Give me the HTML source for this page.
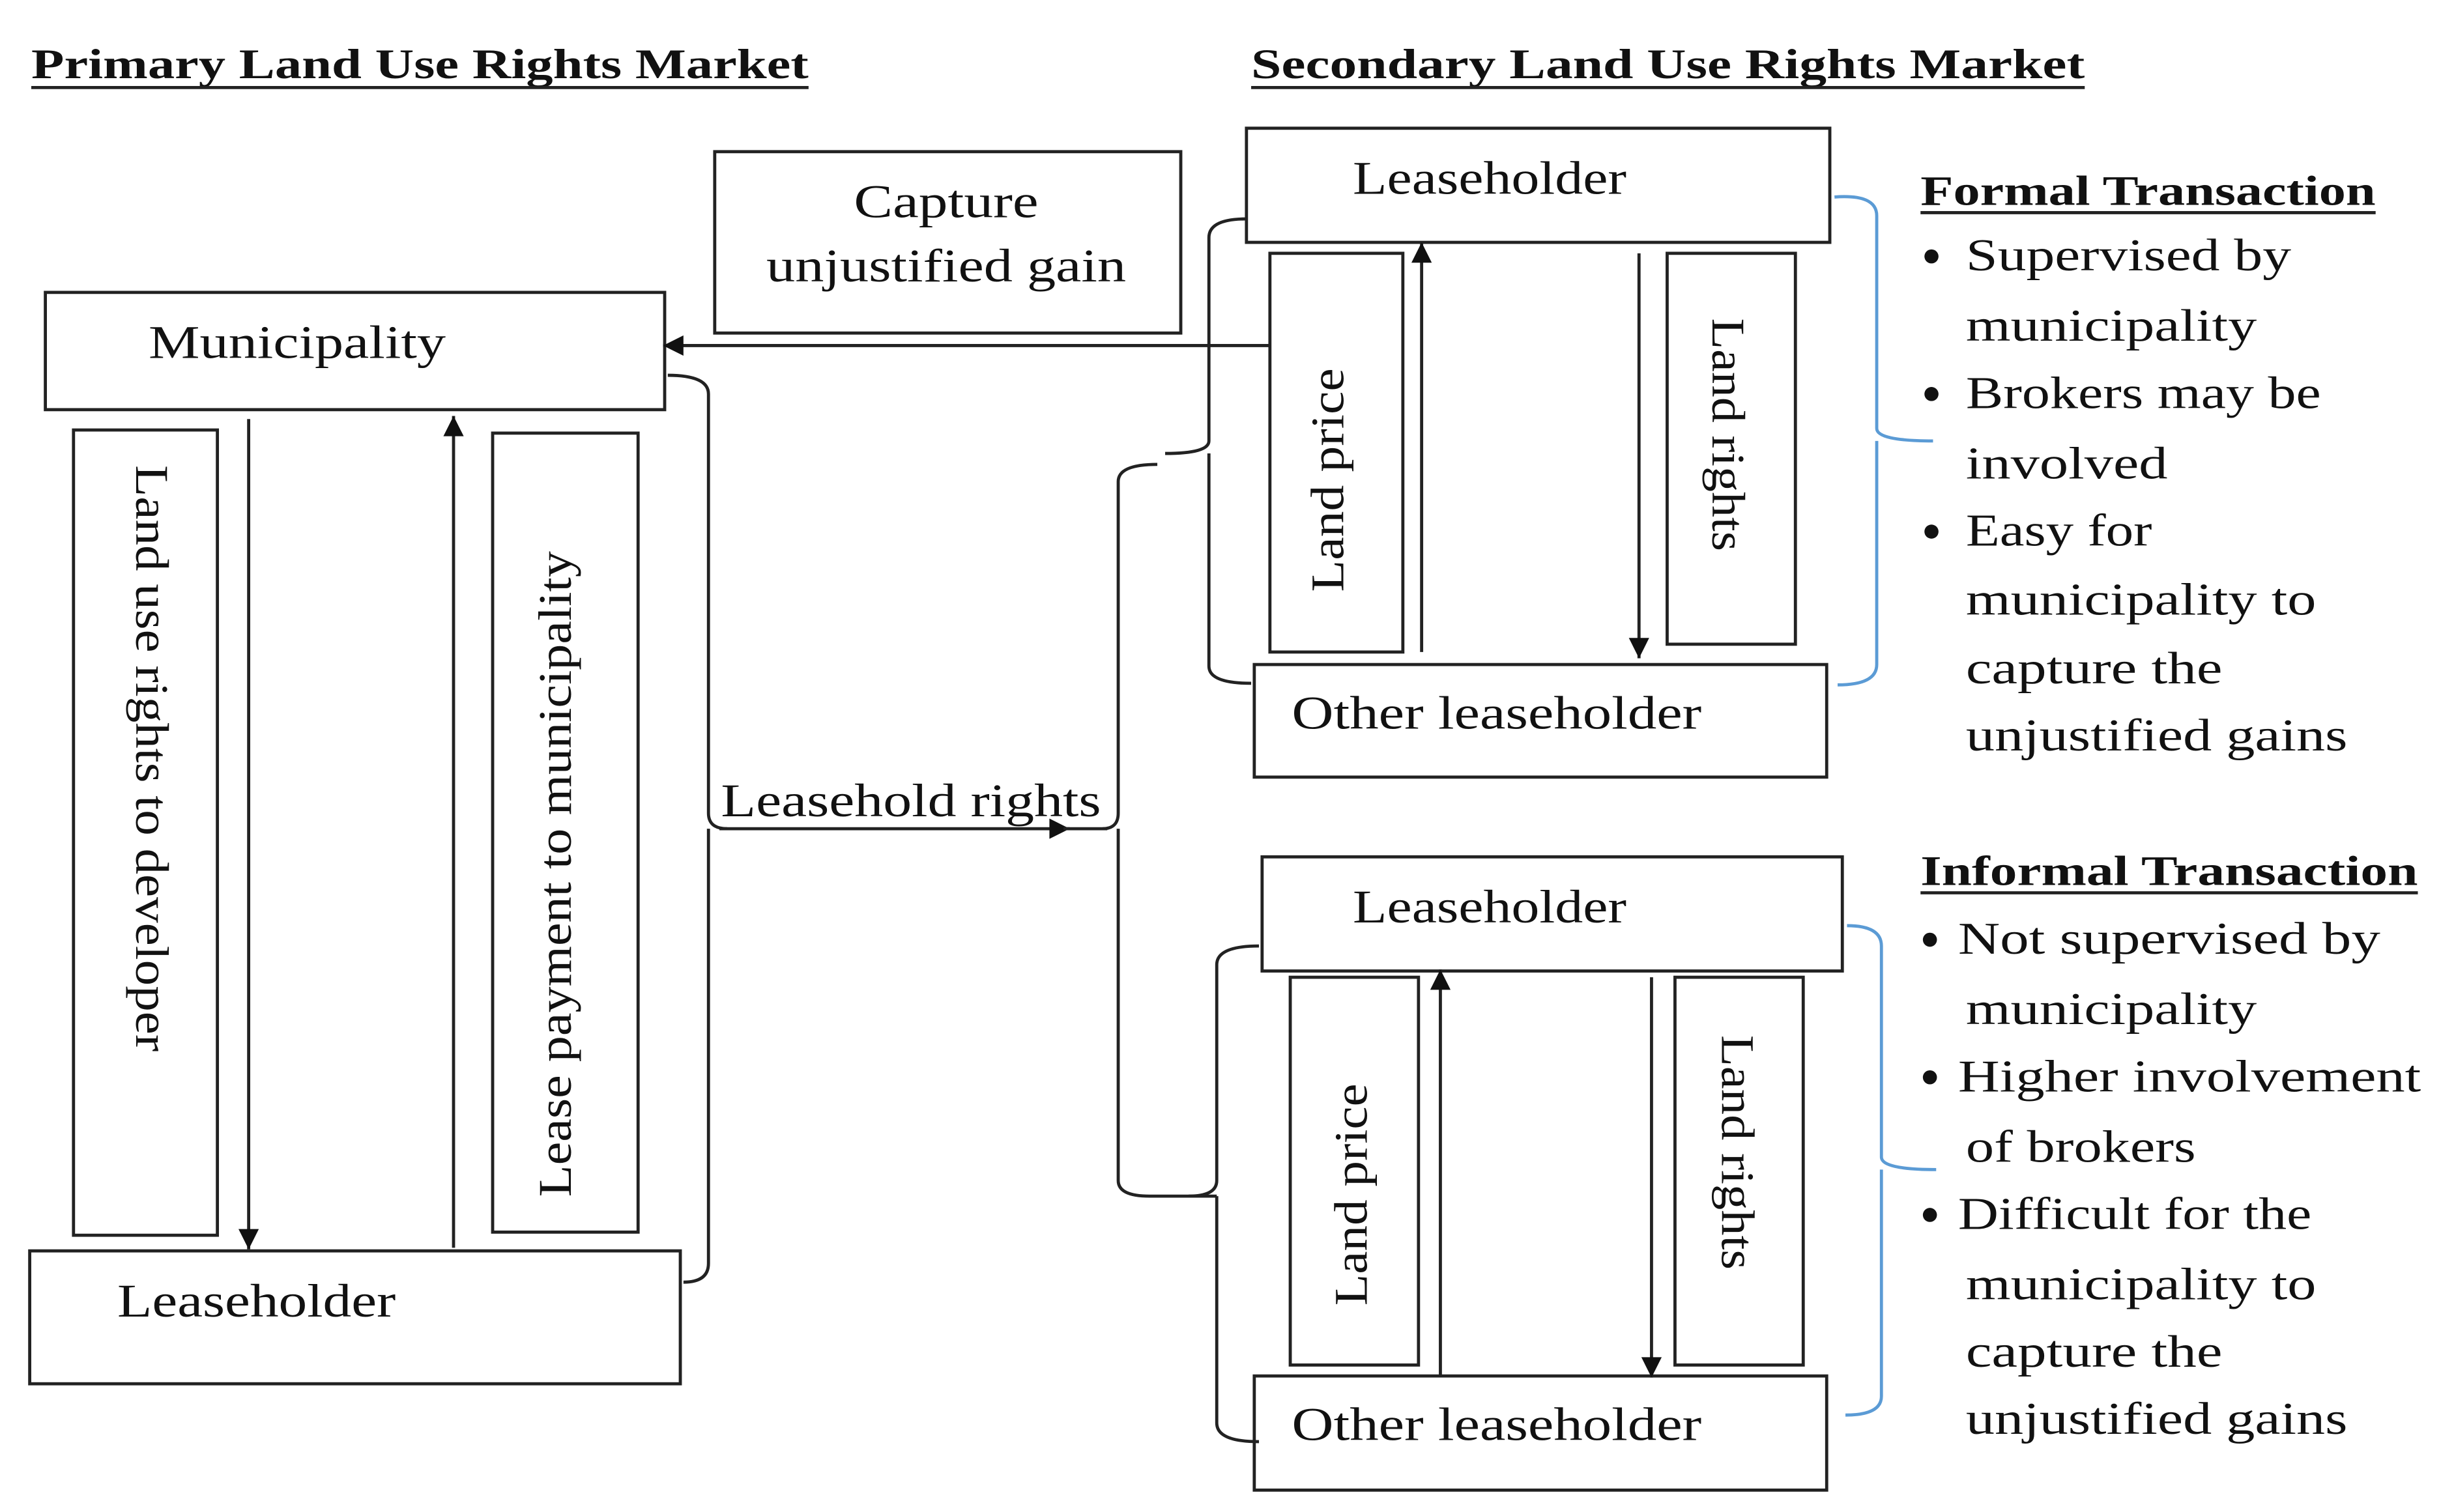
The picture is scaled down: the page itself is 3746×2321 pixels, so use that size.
<!DOCTYPE html>
<html><head><meta charset="utf-8"><style>
html,body{margin:0;padding:0;background:#fff;}
svg{display:block;}
text{font-family:"Liberation Serif",serif;fill:#111;}
</style></head><body>
<svg width="3746" height="2321" viewBox="0 0 1560.8 967" preserveAspectRatio="none" xmlns="http://www.w3.org/2000/svg">
<defs>
<marker id="ah" viewBox="0 0 10 10" refX="10" refY="5" markerWidth="17" markerHeight="13" markerUnits="userSpaceOnUse" orient="auto"><path d="M0,0 L10,5 L0,10 z" fill="#111"/></marker>
</defs>
<g fill="none" stroke="#222" stroke-width="2">
<rect x="457" y="97" width="298" height="116"/>
<rect x="29" y="187" width="396" height="75"/>
<rect x="47" y="275" width="92" height="515"/>
<rect x="315" y="277" width="93" height="511"/>
<rect x="19" y="800" width="416" height="85"/>
<rect x="797" y="82" width="373" height="73"/>
<rect x="812" y="162" width="85" height="255"/>
<rect x="1066" y="162" width="82" height="250"/>
<rect x="802" y="425" width="366" height="72"/>
<rect x="807" y="548" width="371" height="73"/>
<rect x="825" y="625" width="82" height="248"/>
<rect x="1071" y="625" width="82" height="248"/>
<rect x="802" y="880" width="366" height="73"/>
<line x1="159" y1="268" x2="159" y2="799" marker-end="url(#ah)"/>
<line x1="290" y1="798" x2="290" y2="266" marker-end="url(#ah)"/>
<line x1="812" y1="221" x2="424" y2="221" marker-end="url(#ah)"/>
<line x1="909" y1="417" x2="909" y2="155" marker-end="url(#ah)"/>
<line x1="1048" y1="162" x2="1048" y2="421" marker-end="url(#ah)"/>
<line x1="921" y1="880" x2="921" y2="620" marker-end="url(#ah)"/>
<line x1="1056" y1="625" x2="1056" y2="881" marker-end="url(#ah)"/>
<line x1="460" y1="530" x2="684" y2="530" marker-end="url(#ah)"/>
<line x1="680" y1="530" x2="708" y2="530"/>
<path d="M427,240 Q453,240 453,252 V520 Q453,530 465,530 M453,530 Q453,540 453,545 V808 Q453,820 437,820"/>
<path d="M740,297 Q715,297 715,308 V520 Q715,530 705,530 M715,530 V755 Q715,765 735,765 H778"/>
<path d="M797,140 Q773,140 773,152 V282 Q773,290 745,290 M773,290 V426 Q773,437 800,437"/>
<path d="M805,605 Q778,605 778,617 V755 Q778,765 760,765 M778,765 V910 Q778,922 805,922"/>
</g>
<g fill="none" stroke="#5b9bd5" stroke-width="2">
<path d="M1173,126 Q1200,124 1200,138 V274 Q1200,282 1236,282 M1200,282 V425 Q1200,438 1175,438"/>
<path d="M1181,592 Q1203,592 1203,605 V740 Q1203,748 1238,748 M1203,748 V893 Q1203,905 1180,905"/>
</g>
<g font-weight="bold" font-size="27">
<text x="20" y="50" textLength="497" lengthAdjust="spacingAndGlyphs">Primary Land Use Rights Market</text>
<text x="800" y="50" textLength="533" lengthAdjust="spacingAndGlyphs">Secondary Land Use Rights Market</text>
<text x="1228" y="131" textLength="291" lengthAdjust="spacingAndGlyphs">Formal Transaction</text>
<text x="1228" y="566" textLength="318" lengthAdjust="spacingAndGlyphs">Informal Transaction</text>
</g>
<g stroke="#222" stroke-width="2">
<line x1="20" y1="56" x2="517" y2="56"/>
<line x1="800" y1="56" x2="1333" y2="56"/>
<line x1="1228" y1="136" x2="1519" y2="136"/>
<line x1="1228" y1="571" x2="1546" y2="571"/>
</g>
<g font-size="30">
<text x="546" y="139" textLength="118" lengthAdjust="spacingAndGlyphs">Capture</text>
<text x="490" y="180" textLength="230" lengthAdjust="spacingAndGlyphs">unjustified gain</text>
<text x="95" y="229" textLength="190" lengthAdjust="spacingAndGlyphs">Municipality</text>
<text x="75" y="842" textLength="178" lengthAdjust="spacingAndGlyphs">Leaseholder</text>
<text x="865" y="124" textLength="175" lengthAdjust="spacingAndGlyphs">Leaseholder</text>
<text x="826" y="466" textLength="262" lengthAdjust="spacingAndGlyphs">Other leaseholder</text>
<text x="865" y="590" textLength="175" lengthAdjust="spacingAndGlyphs">Leaseholder</text>
<text x="826" y="921" textLength="262" lengthAdjust="spacingAndGlyphs">Other leaseholder</text>
<text x="461" y="522" textLength="243" lengthAdjust="spacingAndGlyphs">Leasehold rights</text>
<text transform="translate(97,485) rotate(90)" text-anchor="middle" dominant-baseline="central" textLength="375" lengthAdjust="spacingAndGlyphs">Land use rights to developer</text>
<text transform="translate(355,559) rotate(-90)" text-anchor="middle" dominant-baseline="central" textLength="413" lengthAdjust="spacingAndGlyphs">Lease payment to municipality</text>
<text transform="translate(849,307) rotate(-90)" text-anchor="middle" dominant-baseline="central" textLength="143" lengthAdjust="spacingAndGlyphs">Land price</text>
<text transform="translate(1105,278) rotate(90)" text-anchor="middle" dominant-baseline="central" textLength="149" lengthAdjust="spacingAndGlyphs">Land rights</text>
<text transform="translate(864,764) rotate(-90)" text-anchor="middle" dominant-baseline="central" textLength="142" lengthAdjust="spacingAndGlyphs">Land price</text>
<text transform="translate(1111,737) rotate(90)" text-anchor="middle" dominant-baseline="central" textLength="150" lengthAdjust="spacingAndGlyphs">Land rights</text>
</g>
<g fill="#111">
<circle cx="1235" cy="164" r="4.5"/>
<circle cx="1235" cy="252" r="4.5"/>
<circle cx="1235" cy="340" r="4.5"/>
<circle cx="1234" cy="601" r="4.5"/>
<circle cx="1234" cy="689" r="4.5"/>
<circle cx="1234" cy="777" r="4.5"/>
</g>
<g font-size="29">
<text x="1257" y="173" textLength="208" lengthAdjust="spacingAndGlyphs">Supervised by</text>
<text x="1257" y="218" textLength="186" lengthAdjust="spacingAndGlyphs">municipality</text>
<text x="1257" y="261" textLength="227" lengthAdjust="spacingAndGlyphs">Brokers may be</text>
<text x="1257" y="306" textLength="129" lengthAdjust="spacingAndGlyphs">involved</text>
<text x="1257" y="349" textLength="119" lengthAdjust="spacingAndGlyphs">Easy for</text>
<text x="1257" y="393" textLength="224" lengthAdjust="spacingAndGlyphs">municipality to</text>
<text x="1257" y="437" textLength="164" lengthAdjust="spacingAndGlyphs">capture the</text>
<text x="1257" y="480" textLength="244" lengthAdjust="spacingAndGlyphs">unjustified gains</text>
<text x="1252" y="610" textLength="270" lengthAdjust="spacingAndGlyphs">Not supervised by</text>
<text x="1257" y="655" textLength="186" lengthAdjust="spacingAndGlyphs">municipality</text>
<text x="1252" y="698" textLength="296" lengthAdjust="spacingAndGlyphs">Higher involvement</text>
<text x="1257" y="743" textLength="147" lengthAdjust="spacingAndGlyphs">of brokers</text>
<text x="1252" y="786" textLength="226" lengthAdjust="spacingAndGlyphs">Difficult for the</text>
<text x="1257" y="831" textLength="224" lengthAdjust="spacingAndGlyphs">municipality to</text>
<text x="1257" y="874" textLength="164" lengthAdjust="spacingAndGlyphs">capture the</text>
<text x="1257" y="917" textLength="244" lengthAdjust="spacingAndGlyphs">unjustified gains</text>
</g>
</svg>
</body></html>
